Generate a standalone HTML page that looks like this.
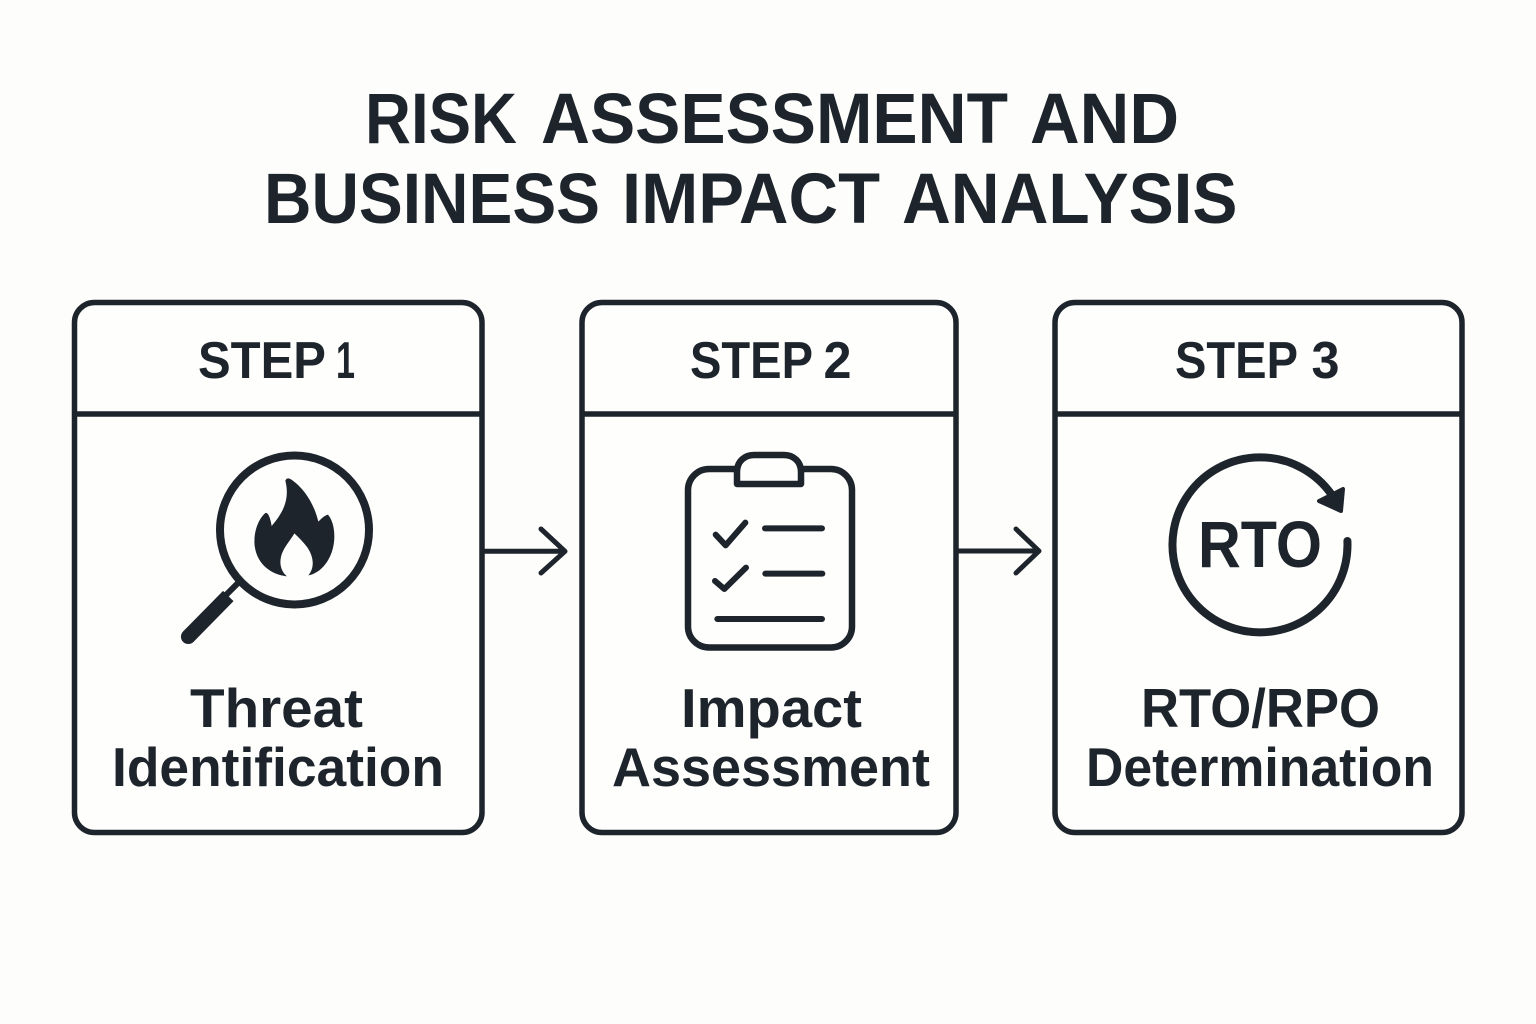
<!DOCTYPE html>
<html><head><meta charset="utf-8"><style>html,body{margin:0;padding:0;background:#fdfdfb}svg{display:block}text{font-family:"Liberation Sans",sans-serif;font-weight:bold;fill:#1d242b}</style></head>
<body><svg width="1536" height="1024" viewBox="0 0 1536 1024" xmlns="http://www.w3.org/2000/svg">
<rect width="1536" height="1024" fill="#fdfdfb"/>
<g font-size="71.5">
<text x="365" y="143" textLength="152" lengthAdjust="spacingAndGlyphs">RISK</text>
<text x="541" y="143" textLength="467" lengthAdjust="spacingAndGlyphs">ASSESSMENT</text>
<text x="1030" y="143" textLength="149" lengthAdjust="spacingAndGlyphs">AND</text>
<text x="264" y="223" textLength="336" lengthAdjust="spacingAndGlyphs">BUSINESS</text>
<text x="622" y="223" textLength="258" lengthAdjust="spacingAndGlyphs">IMPACT</text>
<text x="902" y="223" textLength="335.5" lengthAdjust="spacingAndGlyphs">ANALYSIS</text>
</g>
<g fill="#fefefd" stroke="#1d242b" stroke-width="5.5">
<rect x="74.5" y="302.5" width="407.5" height="530" rx="20"/>
<rect x="582" y="302.5" width="374" height="530" rx="20"/>
<rect x="1055" y="302.5" width="407" height="530" rx="20"/>
</g>
<g stroke="#1d242b" stroke-width="5.5"><path d="M75 414H482M582 414H956M1055 414H1462"/></g>
<g font-size="51.5">
<text x="198" y="378" textLength="128" lengthAdjust="spacingAndGlyphs">STEP</text>
<text x="336" y="378" textLength="19" lengthAdjust="spacingAndGlyphs">1</text>
<text x="690" y="378" textLength="123" lengthAdjust="spacingAndGlyphs">STEP</text>
<text x="823.5" y="378" textLength="28" lengthAdjust="spacingAndGlyphs">2</text>
<text x="1175" y="378" textLength="123" lengthAdjust="spacingAndGlyphs">STEP</text>
<text x="1311.5" y="378" textLength="28" lengthAdjust="spacingAndGlyphs">3</text>
</g>
<g font-size="55">
<text x="190" y="727" textLength="173" lengthAdjust="spacingAndGlyphs">Threat</text>
<text x="112" y="786" textLength="332" lengthAdjust="spacingAndGlyphs">Identification</text>
<text x="681" y="727" textLength="181" lengthAdjust="spacingAndGlyphs">Impact</text>
<text x="612" y="786" textLength="318" lengthAdjust="spacingAndGlyphs">Assessment</text>
<text x="1141" y="727" textLength="239" lengthAdjust="spacingAndGlyphs">RTO/RPO</text>
<text x="1086" y="786" textLength="348" lengthAdjust="spacingAndGlyphs">Determination</text>
</g>
<g fill="none" stroke="#1d242b" stroke-width="5" stroke-linecap="round" stroke-linejoin="round">
<path d="M485 551.3H564M541 529L565 551.3L541 573"/>
<path d="M959 551H1038M1016 529L1039 551L1016 573"/>
</g>
<circle cx="294.5" cy="530" r="74.5" fill="none" stroke="#1d242b" stroke-width="8"/>
<path d="M238 583L226 595" stroke="#1d242b" stroke-width="6" fill="none"/>
<path d="M228.3 596L188.3 636.7" stroke="#1d242b" stroke-width="14.7" stroke-linecap="butt" fill="none"/>
<circle cx="188.3" cy="636.7" r="7.35" fill="#1d242b"/>
<g transform="translate(160 440) scale(.33333)">
<path fill="#1d242b" d="M376 122C380 112 388 114 396 120C432 146 462 190 475 245C484 236 494 226 504 224C518 240 526 272 522 306C516 360 482 400 445 406C464 384 462 352 442 322C430 306 416 292 403 280C392 300 376 316 366 340C356 368 362 394 381 409C336 404 292 376 284 318C280 282 292 240 316 219C326 216 332 240 335 258C362 226 392 184 376 122Z"/>
</g>
<rect x="688" y="469" width="164" height="178.5" rx="21" fill="none" stroke="#1d242b" stroke-width="6.5"/>
<path d="M737 484V472C737 461 745 455 754 455H784C793 455 801 461 801 472V484Z" fill="#fefefd" stroke="#1d242b" stroke-width="6.5" stroke-linejoin="round"/>
<g transform="translate(660 440) scale(.33333)" fill="none" stroke="#1d242b" stroke-width="18" stroke-linecap="round" stroke-linejoin="round">
<path d="M167 284L197 316L256 248M165 423L193 447L258 383M315 265H486M316 401H487M172 537H486"/>
</g>
<path d="M1347.4 541A87.5 87.5 0 1 1 1331.2 494" fill="none" stroke="#1d242b" stroke-width="8" stroke-linecap="round"/>
<path d="M1343 489L1341 511L1319 501Z" fill="#1d242b" stroke="#1d242b" stroke-width="4" stroke-linejoin="round"/>
<text x="1198" y="567" font-size="66" textLength="124" lengthAdjust="spacingAndGlyphs">RTO</text>
</svg></body></html>
